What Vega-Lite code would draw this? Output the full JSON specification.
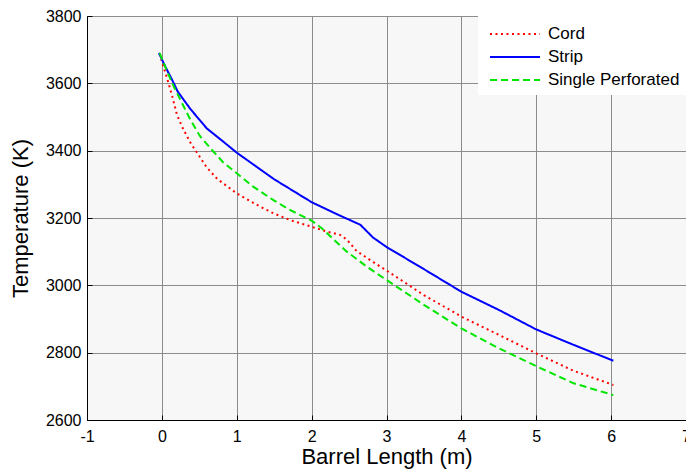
{
  "$schema": "https://vega.github.io/schema/vega-lite/v6.json",
  "width": 599,
  "height": 404,
  "autosize": {"type": "none"},
  "padding": {"left": 87, "top": 16, "right": 0, "bottom": 52},
  "background": "white",
  "config": {
    "font": "Liberation Sans",
    "view": {"fill": "#f7f7f7", "stroke": "black", "strokeWidth": 1}
  },
  "data": {
    "values": [
      {"s": "Cord", "x": -0.03, "y": 3688},
      {"s": "Cord", "x": 0.02, "y": 3650},
      {"s": "Cord", "x": 0.07, "y": 3615},
      {"s": "Cord", "x": 0.14, "y": 3560},
      {"s": "Cord", "x": 0.2, "y": 3508},
      {"s": "Cord", "x": 0.27, "y": 3471},
      {"s": "Cord", "x": 0.38, "y": 3424},
      {"s": "Cord", "x": 0.49, "y": 3387},
      {"s": "Cord", "x": 0.6, "y": 3350},
      {"s": "Cord", "x": 0.74, "y": 3316},
      {"s": "Cord", "x": 1.0, "y": 3273},
      {"s": "Cord", "x": 1.31, "y": 3234},
      {"s": "Cord", "x": 1.49, "y": 3214},
      {"s": "Cord", "x": 1.71, "y": 3194},
      {"s": "Cord", "x": 2.0, "y": 3174},
      {"s": "Cord", "x": 2.2, "y": 3160},
      {"s": "Cord", "x": 2.38, "y": 3150},
      {"s": "Cord", "x": 2.47, "y": 3136},
      {"s": "Cord", "x": 2.6, "y": 3102},
      {"s": "Cord", "x": 2.83, "y": 3068},
      {"s": "Cord", "x": 3.0, "y": 3044},
      {"s": "Cord", "x": 3.5, "y": 2971},
      {"s": "Cord", "x": 4.0, "y": 2907},
      {"s": "Cord", "x": 4.5, "y": 2853},
      {"s": "Cord", "x": 5.0, "y": 2798},
      {"s": "Cord", "x": 5.5, "y": 2746},
      {"s": "Cord", "x": 6.03, "y": 2704},
      {"s": "Strip", "x": -0.04, "y": 3690},
      {"s": "Strip", "x": 0.05, "y": 3648},
      {"s": "Strip", "x": 0.16, "y": 3600},
      {"s": "Strip", "x": 0.21, "y": 3576},
      {"s": "Strip", "x": 0.38, "y": 3524},
      {"s": "Strip", "x": 0.6, "y": 3466},
      {"s": "Strip", "x": 0.83, "y": 3425},
      {"s": "Strip", "x": 1.0, "y": 3394},
      {"s": "Strip", "x": 1.5, "y": 3315},
      {"s": "Strip", "x": 2.0, "y": 3247},
      {"s": "Strip", "x": 2.35, "y": 3210},
      {"s": "Strip", "x": 2.65, "y": 3180},
      {"s": "Strip", "x": 2.82, "y": 3142},
      {"s": "Strip", "x": 3.0, "y": 3114},
      {"s": "Strip", "x": 3.5, "y": 3048},
      {"s": "Strip", "x": 4.0, "y": 2981},
      {"s": "Strip", "x": 4.5, "y": 2927},
      {"s": "Strip", "x": 5.0, "y": 2869},
      {"s": "Strip", "x": 5.5, "y": 2823},
      {"s": "Strip", "x": 6.03, "y": 2776},
      {"s": "Single Perforated", "x": -0.03, "y": 3690},
      {"s": "Single Perforated", "x": 0.07, "y": 3635},
      {"s": "Single Perforated", "x": 0.16, "y": 3590},
      {"s": "Single Perforated", "x": 0.27, "y": 3541},
      {"s": "Single Perforated", "x": 0.38, "y": 3492},
      {"s": "Single Perforated", "x": 0.51, "y": 3443},
      {"s": "Single Perforated", "x": 0.67, "y": 3402},
      {"s": "Single Perforated", "x": 0.82, "y": 3365},
      {"s": "Single Perforated", "x": 1.0, "y": 3333},
      {"s": "Single Perforated", "x": 1.22, "y": 3293},
      {"s": "Single Perforated", "x": 1.49, "y": 3253},
      {"s": "Single Perforated", "x": 1.71, "y": 3224},
      {"s": "Single Perforated", "x": 2.0, "y": 3192},
      {"s": "Single Perforated", "x": 2.14, "y": 3169},
      {"s": "Single Perforated", "x": 2.3, "y": 3135},
      {"s": "Single Perforated", "x": 2.47, "y": 3100},
      {"s": "Single Perforated", "x": 2.74, "y": 3055},
      {"s": "Single Perforated", "x": 3.0, "y": 3016},
      {"s": "Single Perforated", "x": 3.5, "y": 2942},
      {"s": "Single Perforated", "x": 4.0, "y": 2872},
      {"s": "Single Perforated", "x": 4.5, "y": 2813},
      {"s": "Single Perforated", "x": 5.0, "y": 2760},
      {"s": "Single Perforated", "x": 5.5, "y": 2709},
      {"s": "Single Perforated", "x": 6.03, "y": 2674}
    ]
  },
  "mark": {"type": "line", "strokeWidth": 2, "clip": true},
  "encoding": {
    "x": {
      "field": "x", "type": "quantitative",
      "scale": {"domain": [-1, 7], "nice": false, "zero": false},
      "axis": {
        "title": "Barrel Length (m)", "titleFontSize": 22, "titleFontWeight": "normal", "titleColor": "black", "titlePadding": 2,
        "values": [-1, 0, 1, 2, 3, 4, 5, 6, 7], "labelExpr": "'' + datum.value", "labelFontSize": 16, "labelColor": "black", "labelPadding": 13,
        "tickSize": -5, "tickColor": "black", "domainColor": "black",
        "grid": true, "gridColor": "#8c8c8c", "gridOpacity": 1, "labelFlush": false, "labelOverlap": false
      }
    },
    "y": {
      "field": "y", "type": "quantitative",
      "scale": {"domain": [2600, 3800], "nice": false, "zero": false},
      "axis": {
        "title": "Temperature (K)", "titleFontSize": 22, "titleFontWeight": "normal", "titleColor": "black", "titlePadding": 13,
        "values": [2600, 2800, 3000, 3200, 3400, 3600, 3800], "format": "d", "labelFontSize": 16, "labelColor": "black", "labelPadding": 11,
        "tickSize": -5, "tickColor": "black", "domainColor": "black",
        "grid": true, "gridColor": "#8c8c8c", "gridOpacity": 1, "labelFlush": false, "labelOverlap": false
      }
    },
    "color": {
      "field": "s", "type": "nominal", "title": null,
      "scale": {"domain": ["Cord", "Strip", "Single Perforated"], "range": ["#ff0000", "#0000ff", "#00e600"]},
      "legend": {
        "orient": "none", "legendX": 391, "legendY": 0,
        "fillColor": "white", "padding": 7, "symbolType": "M-2.5,0H2.5", "symbolSize": 400, "symbolStrokeWidth": 2,
        "labelFontSize": 17, "labelColor": "black", "rowPadding": 4, "labelOffset": 22, "symbolOffset": 19, "labelLimit": 300
      }
    },
    "strokeDash": {
      "field": "s", "type": "nominal", "title": null,
      "scale": {"domain": ["Cord", "Strip", "Single Perforated"], "range": [[2, 3.5], [1, 0], [7, 4]]}
    }
  }
}
